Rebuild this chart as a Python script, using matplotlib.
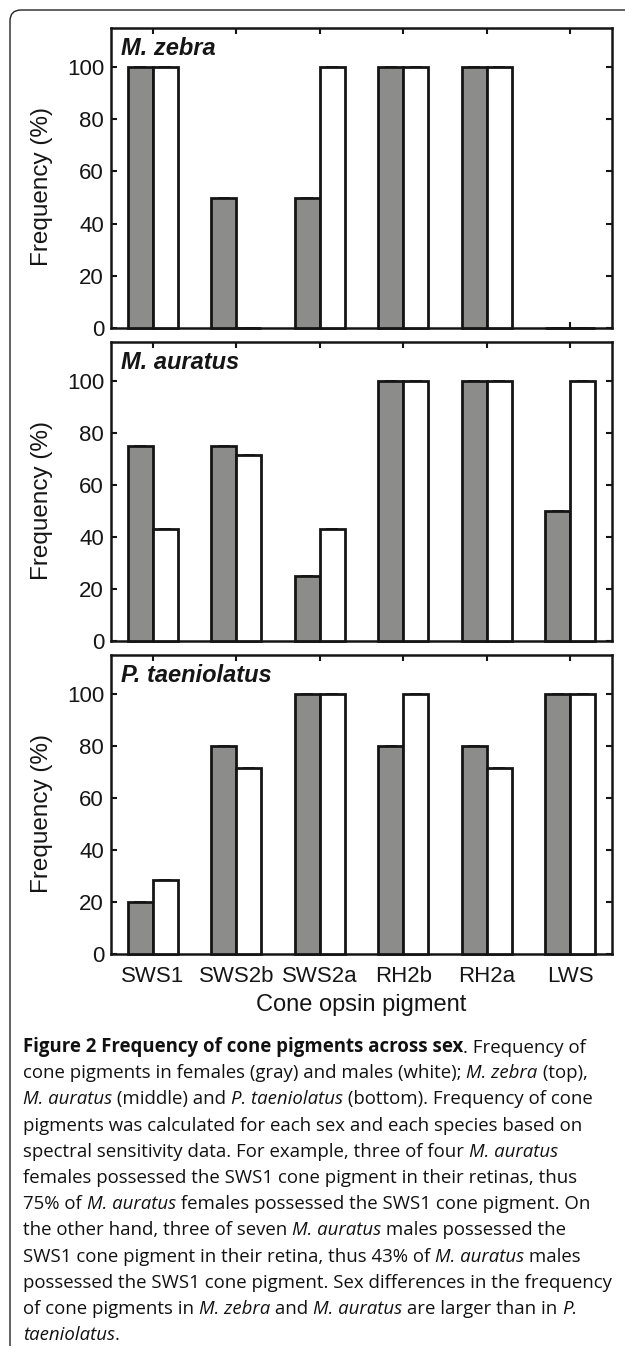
import matplotlib
matplotlib.use("Agg")
import matplotlib.pyplot as plt
import numpy as np
from matplotlib.path import Path
from matplotlib.patches import PathPatch

# ---- data ----
pigments = ["SWS1", "SWS2b", "SWS2a", "RH2b", "RH2a", "LWS"]
species = ["M. zebra", "M. auratus", "P. taeniolatus"]
zebra_female = [100, 50, 50, 100, 100, 0]
zebra_male = [100, 0, 100, 100, 100, 0]
auratus_female = [75, 75, 25, 100, 100, 50]
auratus_male = [42.9, 71.4, 42.9, 100, 100, 100]
taeniolatus_female = [20, 80, 100, 80, 80, 100]
taeniolatus_male = [28.6, 71.4, 100, 100, 71.4, 100]
yticks = [0, 20, 40, 60, 80, 100]
ylabel = "Frequency (%)"
xlabel = "Cone opsin pigment"

females = [zebra_female, auratus_female, taeniolatus_female]
males = [zebra_male, auratus_male, taeniolatus_male]

W, H = 625, 1352
fig = plt.figure(figsize=(W / 100, H / 100), dpi=100)
fig.patch.set_facecolor("white")
plt.rcParams["font.family"] = ["Liberation Sans", "DejaVu Sans"]

# background overlay axes in pixel coordinates
bg = fig.add_axes([0, 0, 1, 1])
bg.set_xlim(0, W)
bg.set_ylim(H, 0)
bg.axis("off")

# rounded left/top border
r = 11
verts = [(10, 1346), (10, 10 + r), (10, 10), (10 + r, 10), (W + 5, 10)]
codes = [Path.MOVETO, Path.LINETO, Path.CURVE3, Path.CURVE3, Path.LINETO]
bg.add_patch(PathPatch(Path(verts, codes), fill=False, edgecolor="#222222", lw=1.0))

panels_px = [(28, 328), (342, 641), (655, 954)]
left_px, right_px = 111, 612
x = np.arange(1, len(pigments) + 1)
bw = 0.3
gray = "#8c8d8b"
ink = "#151515"

for i, (top, bot) in enumerate(panels_px):
    ax = fig.add_axes([left_px / W, 1 - bot / H, (right_px - left_px) / W, (bot - top) / H])
    ax.bar(x - bw / 2, females[i], width=bw, color=gray, edgecolor=ink, linewidth=2.0,
           zorder=3, clip_on=False)
    ax.bar(x + bw / 2, males[i], width=bw, color="white", edgecolor=ink, linewidth=2.0,
           zorder=3, clip_on=False)
    ax.errorbar(x - bw / 2, females[i], yerr=np.zeros(len(pigments)), fmt="none",
                ecolor=ink, capsize=4, elinewidth=1, capthick=1.4, zorder=4, clip_on=False)
    ax.errorbar(x + bw / 2, males[i], yerr=np.zeros(len(pigments)), fmt="none",
                ecolor=ink, capsize=4, elinewidth=1, capthick=1.4, zorder=4, clip_on=False)
    ax.set_xlim(0.5, 6.5)
    ax.set_ylim(0, 115)
    ax.set_yticks(yticks)
    ax.set_xticks(x)
    for s in ax.spines.values():
        s.set_linewidth(1.8)
        s.set_color(ink)
    ax.tick_params(direction="in", length=4, width=1.5, top=True, right=True,
                   labelsize=16, colors=ink, pad=5)
    ax.tick_params(axis="x", labelsize=16, pad=9)
    if i < 2:
        ax.set_xticklabels([])
    else:
        ax.set_xticklabels(pigments)
        ax.set_xlabel(xlabel, fontsize=17, labelpad=5, color=ink)
    ax.set_ylabel(ylabel, fontsize=17.5, color=ink)
    ax.yaxis.set_label_coords(-0.116, 0.47)
    ax.text(0.019, 0.933, species[i], transform=ax.transAxes, fontsize=17,
            fontweight="bold", fontstyle="italic", va="center", ha="left", color=ink)

# ---- caption (rich text, line by line) ----
N, B, I = "normal", "bold", "italic"
caption = [
    [(B, "Figure 2 Frequency of cone pigments across sex"), (N, ". Frequency of")],
    [(N, "cone pigments in females (gray) and males (white); "), (I, "M. zebra"), (N, " (top),")],
    [(I, "M. auratus"), (N, " (middle) and "), (I, "P. taeniolatus"), (N, " (bottom). Frequency of cone")],
    [(N, "pigments was calculated for each sex and each species based on")],
    [(N, "spectral sensitivity data. For example, three of four "), (I, "M. auratus")],
    [(N, "females possessed the SWS1 cone pigment in their retinas, thus")],
    [(N, "75% of "), (I, "M. auratus"), (N, " females possessed the SWS1 cone pigment. On")],
    [(N, "the other hand, three of seven "), (I, "M. auratus"), (N, " males possessed the")],
    [(N, "SWS1 cone pigment in their retina, thus 43% of "), (I, "M. auratus"), (N, " males")],
    [(N, "possessed the SWS1 cone pigment. Sex differences in the frequency")],
    [(N, "of cone pigments in "), (I, "M. zebra"), (N, " and "), (I, "M. auratus"), (N, " are larger than in "), (I, "P.")],
    [(I, "taeniolatus"), (N, ".")],
]
cap_fs = 13.4
y0, dy = 1047, 26.2
for li, segs in enumerate(caption):
    prev = None
    for style, txt in segs:
        kw = dict(fontsize=cap_fs, family=["Open Sans", "DejaVu Sans"], color="#111111")
        if style == B:
            kw["fontweight"] = "bold"
        elif style == I:
            kw["fontstyle"] = "italic"
        if prev is None:
            prev = bg.text(23, y0 + li * dy, txt, ha="left", va="center", **kw)
        else:
            prev = bg.annotate(txt, xy=(1, 0), xycoords=prev, ha="left", va="bottom", **kw)

fig.savefig("out.png", dpi=100, facecolor="white")
